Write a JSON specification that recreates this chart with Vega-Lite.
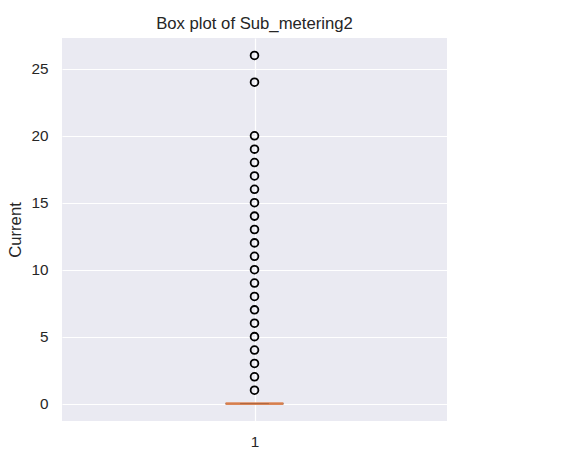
{
  "$schema": "https://vega.github.io/schema/vega-lite/v6.json",
  "width": 385,
  "height": 383,
  "autosize": {"type": "none"},
  "padding": {"left": 62, "top": 38, "right": 126, "bottom": 34},
  "background": "white",
  "config": {
    "view": {"fill": "#eaeaf2", "stroke": null},
    "font": "Liberation Sans",
    "axis": {
      "domain": false,
      "ticks": false,
      "gridColor": "white",
      "gridWidth": 1.2,
      "labelFont": "Liberation Sans",
      "labelFontSize": 15.3,
      "labelColor": "#262626",
      "titleFont": "Liberation Sans",
      "titleFontSize": 16.7,
      "titleFontWeight": "normal",
      "titleColor": "#262626"
    }
  },
  "title": {
    "text": "Box plot of Sub_metering2",
    "font": "Liberation Sans",
    "fontSize": 16.7,
    "fontWeight": "normal",
    "color": "#262626",
    "offset": 5
  },
  "datasets": {
    "outliers": [
      {"x": 1, "v": 1}, {"x": 1, "v": 2}, {"x": 1, "v": 3}, {"x": 1, "v": 4},
      {"x": 1, "v": 5}, {"x": 1, "v": 6}, {"x": 1, "v": 7}, {"x": 1, "v": 8},
      {"x": 1, "v": 9}, {"x": 1, "v": 10}, {"x": 1, "v": 11}, {"x": 1, "v": 12},
      {"x": 1, "v": 13}, {"x": 1, "v": 14}, {"x": 1, "v": 15}, {"x": 1, "v": 16},
      {"x": 1, "v": 17}, {"x": 1, "v": 18}, {"x": 1, "v": 19}, {"x": 1, "v": 20},
      {"x": 1, "v": 24}, {"x": 1, "v": 26}
    ],
    "box": [
      {"x0": 0.925, "x1": 1.075, "c0": 0.9625, "c1": 1.0375, "q1": 0, "q3": 0, "median": 0}
    ]
  },
  "layer": [
    {
      "data": {"name": "box"},
      "mark": {"type": "rect", "fill": null, "stroke": "#222222", "strokeWidth": 1.4},
      "encoding": {
        "x": {
          "field": "x0", "type": "quantitative",
          "scale": {"domain": [0.5, 1.5], "nice": false, "zero": false},
          "axis": {"values": [1], "format": "d", "title": null, "labelPadding": 13, "grid": true}
        },
        "x2": {"field": "x1"},
        "y": {
          "field": "q1", "type": "quantitative",
          "scale": {"domain": [-1.3, 27.3], "nice": false, "zero": false},
          "axis": {"values": [0, 5, 10, 15, 20, 25], "title": "Current", "labelPadding": 14, "titlePadding": 6, "grid": true}
        },
        "y2": {"field": "q3"}
      }
    },
    {
      "data": {"name": "box"},
      "mark": {"type": "rule", "color": "#dd8452", "strokeWidth": 2.6, "opacity": 0.95},
      "encoding": {
        "x": {"field": "x0", "type": "quantitative"},
        "x2": {"field": "x1"},
        "y": {"field": "median", "type": "quantitative"}
      }
    },
    {
      "data": {"name": "box"},
      "mark": {"type": "rule", "color": "#6b3a22", "strokeWidth": 1, "opacity": 0.35},
      "encoding": {
        "x": {"field": "c0", "type": "quantitative"},
        "x2": {"field": "c1"},
        "y": {"field": "median", "type": "quantitative"}
      }
    },
    {
      "data": {"name": "outliers"},
      "mark": {"type": "point", "shape": "circle", "filled": false, "stroke": "black", "strokeWidth": 1.8, "size": 60, "opacity": 1},
      "encoding": {
        "x": {"field": "x", "type": "quantitative"},
        "y": {"field": "v", "type": "quantitative"}
      }
    }
  ]
}
